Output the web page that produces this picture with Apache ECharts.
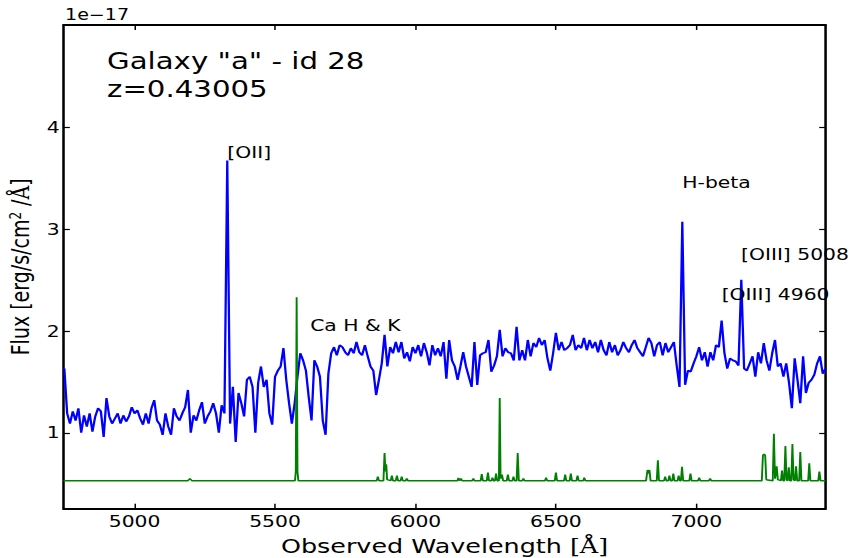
<!DOCTYPE html>
<html><head><meta charset="utf-8">
<script src="https://cdn.jsdelivr.net/npm/echarts@6/dist/echarts.min.js"></script>
<style>
html,body{margin:0;padding:0;background:#fff;overflow:hidden;}
#wrap{width:851px;height:558px;overflow:hidden;position:relative;background:#fff;}
#chart{width:670px;height:558px;transform:scaleX(1.2701);transform-origin:0 0;}
</style></head><body>
<div id="wrap"><div id="chart"></div></div>
<script>
// ---- data ----
const wlStart = 4750, wlStep = 10;
const galaxyFlux = [
1.63,1.19,1.09,1.21,1.12,1.24,1.00,1.17,1.06,1.19,1.01,1.16,1.24,1.21,0.96,1.34,1.16,1.09,1.14,1.19,
1.09,1.17,1.11,1.16,1.25,1.19,1.22,1.14,1.08,1.19,1.09,1.24,1.32,1.12,1.08,0.98,1.19,1.06,0.98,1.24,
1.16,1.12,1.19,1.25,1.42,1.00,1.17,1.12,1.22,1.30,1.09,1.16,1.21,1.29,1.19,1.00,1.27,1.19,3.67,1.09,
1.45,0.91,1.39,1.29,1.16,1.52,1.55,1.45,1.00,1.49,1.65,1.45,1.52,1.19,1.08,1.55,1.61,1.65,1.83,1.52,
1.29,1.09,1.29,1.55,1.78,1.71,1.61,1.35,1.12,1.71,1.65,1.55,1.12,0.98,1.58,1.78,1.84,1.76,1.86,1.84,
1.79,1.76,1.83,1.78,1.89,1.79,1.76,1.86,1.75,1.65,1.61,1.37,1.52,1.68,1.96,1.65,1.84,1.78,1.89,1.79,
1.89,1.73,1.79,1.70,1.84,1.78,1.86,1.75,1.88,1.79,1.66,1.86,1.76,1.83,1.75,1.89,1.53,1.91,1.71,1.65,
1.52,1.65,1.79,1.65,1.55,1.45,1.89,1.47,1.76,1.78,1.79,1.91,1.60,1.66,1.75,2.01,1.75,1.83,1.79,1.78,
1.71,2.04,1.71,1.81,1.71,1.91,1.75,1.88,1.84,1.93,1.86,1.91,1.73,1.61,1.78,1.98,1.81,1.89,1.81,1.83,
1.86,1.96,1.81,1.86,1.83,1.93,1.81,1.91,1.83,1.89,1.79,1.91,1.81,1.76,1.89,1.79,1.86,1.76,1.81,1.89,
1.83,1.79,1.86,1.91,1.83,1.79,1.75,1.84,1.93,1.88,1.75,1.86,1.89,1.76,1.88,1.79,1.84,1.89,1.66,1.45,
3.07,1.47,1.61,1.60,1.68,1.75,1.84,1.71,1.79,1.65,1.79,1.71,1.86,1.84,2.10,1.78,1.63,1.73,1.71,1.70,
1.66,2.50,1.63,1.61,1.68,1.75,1.55,1.79,1.68,1.88,1.71,1.61,1.78,1.91,1.65,1.68,1.55,1.68,1.49,1.24,
1.73,1.52,1.29,1.75,1.39,1.49,1.52,1.57,1.68,1.75,1.58,1.63
];
const skyWave = [
4747,4900,5190,5197,5204,5400,5571,5574,5577,5580,5583,5700,5862,5866,5870,5886,5890,5893,5896,5899,
5912,5916,5920,5930,5934,5938,5947,5951,5955,5965,5969,5973,6149,6153,6157,6162,6166,6202,6206,6210,
6232,6236,6240,6254,6258,6262,6270,6274,6278,6283,6287,6291,6297,6300,6303,6308,6312,6325,6329,6333,
6345,6349,6353,6360,6364,6368,6380,6384,6388,6461,6465,6469,6496,6500,6504,6529,6533,6537,6549,6553,
6557,6573,6577,6581,6597,6601,6605,6821,6826,6830,6833,6837,6859,6863,6867,6885,6889,6893,6900,6904,
6908,6914,6918,6922,6933,6937,6941,6945,6949,6953,6975,6979,6983,7006,7010,7014,7045,7049,7053,7233,
7237,7241,7245,7249,7272,7276,7280,7286,7290,7301,7305,7309,7313,7317,7321,7325,7329,7333,7338,7342,
7346,7351,7355,7359,7366,7370,7374,7398,7402,7406,7434,7438,7442,7460
];
const skyFlux = [
0.53,0.528,0.53,0.55,0.53,0.528,0.53,0.62,2.33,0.62,0.53,0.528,0.53,0.57,0.53,0.53,0.80,0.62,0.69,0.54,
0.53,0.58,0.53,0.53,0.58,0.53,0.53,0.57,0.53,0.53,0.55,0.53,0.53,0.556,0.53,0.55,0.53,0.53,0.55,0.53,
0.53,0.595,0.53,0.53,0.61,0.53,0.53,0.56,0.53,0.53,0.60,0.53,0.53,1.34,0.55,0.59,0.53,0.53,0.59,0.53,
0.53,0.57,0.53,0.53,0.80,0.53,0.53,0.55,0.53,0.53,0.56,0.53,0.53,0.61,0.53,0.53,0.59,0.53,0.53,0.60,
0.53,0.53,0.58,0.53,0.53,0.56,0.53,0.53,0.635,0.60,0.635,0.53,0.53,0.73,0.53,0.53,0.57,0.53,0.53,0.58,
0.53,0.53,0.60,0.53,0.53,0.58,0.53,0.53,0.667,0.53,0.53,0.60,0.53,0.53,0.56,0.53,0.53,0.55,0.53,0.53,
0.78,0.79,0.78,0.54,0.53,0.99,0.55,0.67,0.54,0.53,0.63,0.53,0.53,0.87,0.54,0.53,0.66,0.53,0.53,0.89,
0.54,0.53,0.67,0.53,0.53,0.81,0.53,0.53,0.70,0.53,0.53,0.62,0.53,0.53
];
const xTicks = [5000, 5500, 6000, 6500, 7000];
const yTicks = [1, 2, 3, 4];
const lineLabels = ['[OII]', 'Ca H & K', 'H-beta', '[OIII] 5008', '[OIII] 4960'];
const labelWave = [5330, 5625, 6950, 7159, 7090];
const labelFlux = [3.70, 2.00, 3.40, 2.70, 2.30];
const titleLines = ['Galaxy "a" - id 28', 'z=0.43005'];
const offsetText = '1e\u221217';

// ---- build ----
const FONT = 'DejaVu Sans';
const galaxyData = galaxyFlux.map((f, i) => [wlStart + i * wlStep, f]);
const skyData = skyWave.map((w, i) => [w, skyFlux[i]]);
const annData = labelWave.map((w, i) => ({ value: [w, labelFlux[i]], name: lineLabels[i] }));
const plain = v => String(v);

const chart = echarts.init(document.getElementById('chart'), null, { renderer: 'svg' });
const baseX = { type: 'value', min: 4747, max: 7460, splitLine: { show: false },
  axisLine: { show: true, onZero: false, lineStyle: { color: '#000', width: 2 } },
  axisTick: { show: true, inside: true, length: 5, customValues: xTicks, lineStyle: { color: '#000', width: 1.2 } } };
const baseY = { type: 'value', min: 0.255, max: 5.0, splitLine: { show: false },
  axisLine: { show: true, onZero: false, lineStyle: { color: '#000', width: 2 } },
  axisTick: { show: true, inside: true, length: 5, customValues: yTicks, lineStyle: { color: '#000', width: 1.2 } } };

chart.setOption({
  animation: false,
  backgroundColor: '#fff',
  grid: { left: 50, right: 20, top: 25, bottom: 49.3, containLabel: false, outerBoundsMode: 'none' },
  xAxis: [
    Object.assign({}, baseX, { position: 'bottom',
      axisLabel: { show: true, customValues: xTicks, formatter: plain, margin: 5, fontSize: 16, color: '#000', fontFamily: FONT },
      name: 'Observed Wavelength {a|[Å]}', nameLocation: 'middle', nameGap: 27,
      nameTextStyle: { fontSize: 20, color: '#000', fontFamily: FONT,
        rich: { a: { fontSize: 20, fontFamily: 'DejaVu Serif', color: '#000' } } } }),
    Object.assign({}, baseX, { position: 'top', axisLabel: { show: false } })
  ],
  yAxis: [
    Object.assign({}, baseY, { position: 'left',
      axisLabel: { show: true, customValues: yTicks, formatter: plain, margin: 3, fontSize: 16, color: '#000', fontFamily: FONT },
      name: 'Flux [erg/s/cm{s|2} /{a|Å}]', nameLocation: 'middle', nameGap: 22,
      nameTextStyle: { fontSize: 19, color: '#000', fontFamily: FONT,
        rich: { s: { fontSize: 12, verticalAlign: 'top', padding: [0, 0, 8, 0], color: '#000', fontFamily: FONT },
                a: { fontSize: 19, fontFamily: 'DejaVu Serif', color: '#000' } } } }),
    Object.assign({}, baseY, { position: 'right', axisLabel: { show: false } })
  ],
  series: [
    { type: 'line', name: 'galaxy', data: galaxyData, showSymbol: false, symbol: 'none',
      lineStyle: { color: '#0000ff', width: 1.8 }, silent: true, z: 2 },
    { type: 'line', name: 'sky', data: skyData, showSymbol: false, symbol: 'none',
      lineStyle: { color: '#008000', width: 1.5 }, silent: true, z: 3 },
    { type: 'scatter', name: 'lines', data: annData, symbolSize: 0, silent: true, z: 4,
      itemStyle: { opacity: 1 },
      label: { show: true, formatter: '{b}', position: [0, 0], align: 'left', verticalAlign: 'middle',
        offset: [0, -5.6], fontSize: 16, color: '#000', opacity: 1, fontFamily: FONT } }
  ],
  graphic: [
    { type: 'text', left: 51.2, top: 7, style: { text: offsetText, fill: '#000', font: '15px "DejaVu Sans"' } },
    { type: 'text', x: 84.3, y: 61, style: { text: titleLines[0], fill: '#000', font: '23px "DejaVu Sans"', verticalAlign: 'middle', align: 'left' } },
    { type: 'text', x: 84.3, y: 88.7, style: { text: titleLines[1], fill: '#000', font: '23px "DejaVu Sans"', verticalAlign: 'middle', align: 'left' } }
  ]
});
</script>
</body></html>
